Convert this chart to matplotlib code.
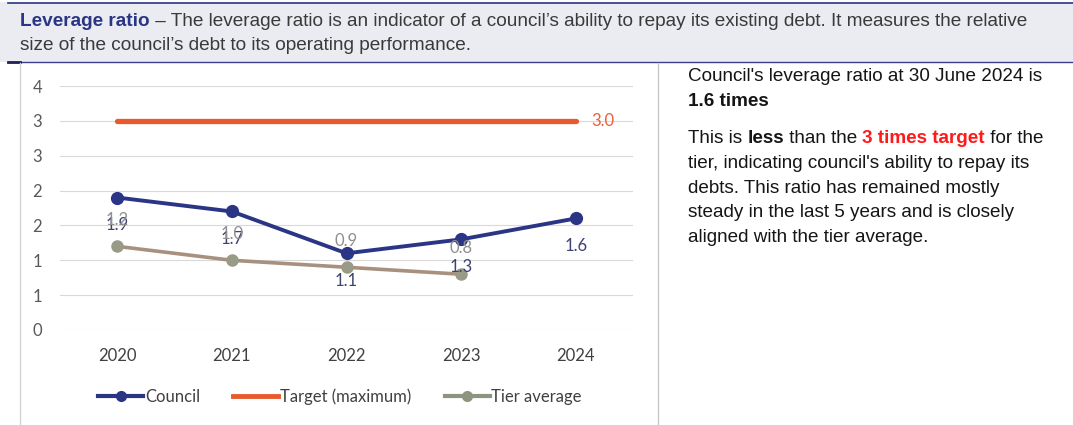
import numpy as np
import matplotlib
matplotlib.use("Agg")
import matplotlib.pyplot as plt
from matplotlib.ticker import FuncFormatter
from matplotlib.lines import Line2D

years = ["2020", "2021", "2022", "2023", "2024"]
council = [1.9, 1.7, 1.1, 1.3, 1.6]
target = [3.0, 3.0, 3.0, 3.0, 3.0]
tier_avg = [1.2, 1.0, 0.9, 0.8]
yticks = [0, 0.5, 1.0, 1.5, 2.0, 2.5, 3.0, 3.5]

NAVY = "#2b3585"
ORANGE = "#e85a2e"
TIER = "#a8907f"
TIER_MK = "#9a9a88"

W, H = 1073, 425
fig = plt.figure(figsize=(W / 100, H / 100), dpi=100)
fig.patch.set_facecolor("white")

hdr_font = "Liberation Sans"
chart_font = "Lato"


def fx(px):
    return px / W


def fy(py):
    return 1 - py / H


# header band
fig.add_artist(plt.Rectangle((0, fy(62)), 1, (62 - 2) / H, transform=fig.transFigure,
                             facecolor="#ebebf2", edgecolor="none", zorder=0))
fig.add_artist(Line2D([fx(8), 1], [fy(3), fy(3)], transform=fig.transFigure, color=NAVY, lw=1.2))
fig.add_artist(Line2D([fx(8), 1], [fy(62), fy(62)], transform=fig.transFigure, color="#3c3c8c", lw=1.0))
fig.add_artist(Line2D([fx(8), fx(20)], [fy(62), fy(62)], transform=fig.transFigure, color="#222255", lw=2))
# panel borders
fig.add_artist(Line2D([fx(20), fx(20)], [fy(63), 0], transform=fig.transFigure, color="#d4d4d4", lw=1))
fig.add_artist(Line2D([fx(658), fx(658)], [fy(63), 0], transform=fig.transFigure, color="#c8c8c8", lw=1))

fig.canvas.draw()
renderer = fig.canvas.get_renderer()


def text_width(s, **kw):
    t = fig.text(0, 0, s, **kw)
    w = t.get_window_extent(renderer).width
    t.remove()
    return w


def put_runs(x, y, runs, size, family):
    # draw a line made of differently styled pieces
    for s, weight, color in runs:
        kw = dict(fontsize=size, family=family, fontweight=weight)
        fig.text(fx(x), fy(y), s, color=color, ha="left", va="baseline", **kw)
        w = text_width(s.replace(" ", "\u00a0") + "|", **kw) - text_width("|", **kw)
        x += w


hdr_size = 13.7
put_runs(20, 26, [("Leverage ratio", "bold", NAVY),
                  (" \u2013 The leverage ratio is an indicator of a council\u2019s ability to repay its existing debt. It measures the relative",
                   "normal", "#3a3a3a")], hdr_size, hdr_font)
put_runs(20, 50, [("size of the council\u2019s debt to its operating performance.", "normal", "#3a3a3a")],
         hdr_size, hdr_font)

# commentary on the right
rs = 13.6
rf = "Liberation Sans"
dark = "#151515"
put_runs(688, 81, [("Council's leverage ratio at 30 June 2024 is", "normal", dark)], rs, rf)
put_runs(688, 106, [("1.6 times", "bold", dark)], rs, rf)
put_runs(688, 143, [("This is ", "normal", dark), ("less", "bold", dark),
                    (" than the ", "normal", dark), ("3 times target", "bold", "#ff1a1a"),
                    (" for the", "normal", dark)], rs, rf)
for i, line in enumerate(["tier, indicating council's ability to repay its",
                          "debts. This ratio has remained mostly",
                          "steady in the last 5 years and is closely",
                          "aligned with the tier average."]):
    put_runs(688, 168 + i * 24.7, [(line, "normal", dark)], rs, rf)

# chart
ax = fig.add_axes([fx(60), fy(330), (633 - 60) / W, (330 - 86) / H])
ax.set_facecolor("none")
x = np.arange(len(years))

ax.plot(x, target, color=ORANGE, lw=3.8, solid_capstyle="round", zorder=3)
ax.plot(x[:len(tier_avg)], tier_avg, color=TIER, lw=2.6, marker="o", ms=8,
        mfc=TIER_MK, mec=TIER_MK, zorder=3)
ax.plot(x, council, color=NAVY, lw=2.8, marker="o", ms=8.5, zorder=4)

for xi, v in zip(x, council):
    ax.annotate(f"{v:.1f}", (xi, v), xytext=(0, -20), textcoords="offset points",
                ha="center", va="center", fontsize=12, family=chart_font, color="#3d4270", zorder=5)
for xi, v in zip(x, tier_avg):
    ax.annotate(f"{v:.1f}", (xi, v), xytext=(0, 19), textcoords="offset points",
                ha="center", va="center", fontsize=12, family=chart_font, color="#8f8f8f", zorder=5)
ax.annotate(f"{target[-1]:.1f}", (x[-1], target[-1]), xytext=(11, 0), textcoords="offset points",
            ha="left", va="center", fontsize=12, family=chart_font, color="#e8603c")

ax.set_xlim(-0.5, len(years) - 0.5)
ax.set_ylim(0, 3.5)
ax.set_yticks(yticks)
ax.yaxis.set_major_formatter(FuncFormatter(lambda v, p: f"{int(np.floor(v + 0.5))}"))
ax.set_xticks(x)
ax.set_xticklabels(years)
ax.grid(axis="y", color="#d9d9d9", lw=0.8)
ax.set_axisbelow(True)
for s in ax.spines.values():
    s.set_visible(False)
ax.tick_params(length=0)
ax.tick_params(axis="y", pad=13, labelsize=12, labelcolor="#595959")
ax.tick_params(axis="x", pad=13, labelsize=12, labelcolor="#404040")
for lab in ax.get_xticklabels() + ax.get_yticklabels():
    lab.set_family(chart_font)

handles = [Line2D([], [], color=NAVY, lw=3, marker="o", ms=7),
           Line2D([], [], color=ORANGE, lw=3.5),
           Line2D([], [], color="#8c9580", lw=3, marker="o", ms=7)]
leg = fig.legend(handles, ["Council", "Target (maximum)", "Tier average"], loc="center",
                 bbox_to_anchor=(fx(340), fy(397)), ncol=3, frameon=False, handlelength=2.7,
                 handletextpad=0.1, columnspacing=2.0, prop={"family": chart_font, "size": 12})
for t in leg.get_texts():
    t.set_color("#404040")

fig.savefig("out.png", dpi=100)
